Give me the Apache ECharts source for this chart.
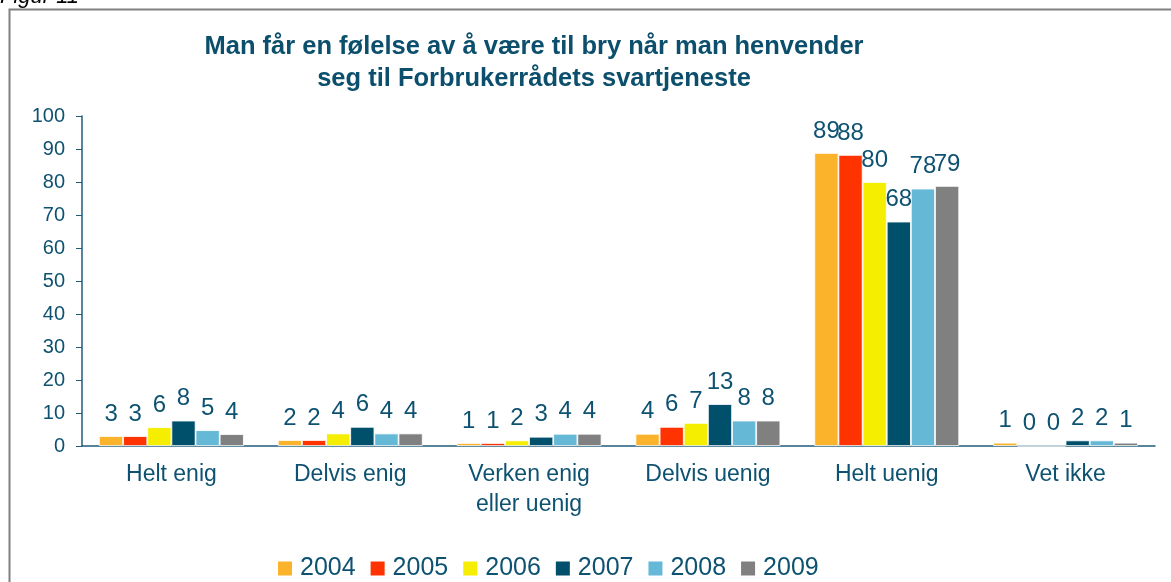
<!DOCTYPE html>
<html><head><meta charset="utf-8">
<script src="https://cdn.jsdelivr.net/npm/echarts@6/dist/echarts.min.js"></script>
<style>html,body{margin:0;padding:0;background:#fff}#c{width:1171px;height:582px}</style>
</head><body><div id="c"></div>
<script>
const categories = ['Helt enig', 'Delvis enig', 'Verken enig\neller uenig', 'Delvis uenig', 'Helt uenig', 'Vet ikke'];
const years = ['2004', '2005', '2006', '2007', '2008', '2009'];
const colors = ['#FBB32B', '#FF3300', '#F5EE00', '#004F6B', '#66B8D7', '#808080'];
const v2004 = [3.0, 1.8, 0.9, 3.7, 88.8, 1.0];
const v2005 = [3.0, 1.8, 0.9, 5.8, 88.2, 0.0];
const v2006 = [5.7, 3.8, 1.7, 7.0, 80.0, 0.0];
const v2007 = [7.7, 5.8, 2.8, 12.7, 68.0, 1.7];
const v2008 = [4.8, 3.8, 3.7, 7.7, 78.0, 1.7];
const v2009 = [3.6, 3.8, 3.7, 7.7, 78.8, 1.0];
const yTicks = [0, 10, 20, 30, 40, 50, 60, 70, 80, 90, 100];
const seriesValues = [v2004, v2005, v2006, v2007, v2008, v2009];
const txt = '#0E5271';
const chart = echarts.init(document.getElementById('c'));
chart.setOption({
  animation: false,
  textStyle: {fontFamily: 'Liberation Sans, Arial, sans-serif'},
  graphic: [
    {type: 'rect', shape: {x: 9.5, y: 9.5, width: 1200, height: 600}, style: {fill: 'none', stroke: '#808080', lineWidth: 2}, z: -1},
    {type: 'text', left: 0, top: -14, style: {text: 'Figur 11', font: 'italic 22px Liberation Sans, Arial', fill: '#000'}}
  ],
  title: {
    text: 'Man får en følelse av å være til bry når man henvender\nseg til Forbrukerrådets svartjeneste',
    left: 529, top: 26, textAlign: 'center',
    textStyle: {color: '#0B4F6C', fontSize: 25.5, fontWeight: 'bold', lineHeight: 32, fontFamily: 'Liberation Sans, Arial'}
  },
  legend: {
    top: 551, left: 271, itemWidth: 16, itemHeight: 16, itemGap: 13, icon: 'rect',
    textStyle: {color: txt, fontSize: 25, padding: [0, 0, 0, 2]},
    data: years
  },
  grid: {left: 82, right: 16, top: 116, bottom: 136},
  xAxis: {
    type: 'category', data: categories,
    axisLine: {lineStyle: {color: '#1F5C7A', width: 1.5}},
    axisTick: {show: false},
    axisLabel: {color: txt, fontSize: 23, lineHeight: 30, margin: 14}
  },
  yAxis: {
    type: 'value', min: 0, max: 100, interval: 10,
    axisLine: {show: true, lineStyle: {color: '#1F5C7A', width: 1.5}},
    axisTick: {show: true, length: 6, lineStyle: {color: '#1F5C7A'}},
    splitLine: {show: false},
    axisLabel: {color: txt, fontSize: 20, margin: 17,
      formatter: v => yTicks.includes(v) ? String(v) : ''}
  },
  series: years.map((y, i) => ({
    name: y, type: 'bar', data: seriesValues[i],
    barGap: '0%', barCategoryGap: '19%',
    itemStyle: {color: colors[i], borderColor: '#fff', borderWidth: 0.8},
    label: {show: true, position: 'top', distance: 10, color: txt, fontSize: 24,
      formatter: p => String(Math.round(p.value))}
  }))
});
</script></body></html>
